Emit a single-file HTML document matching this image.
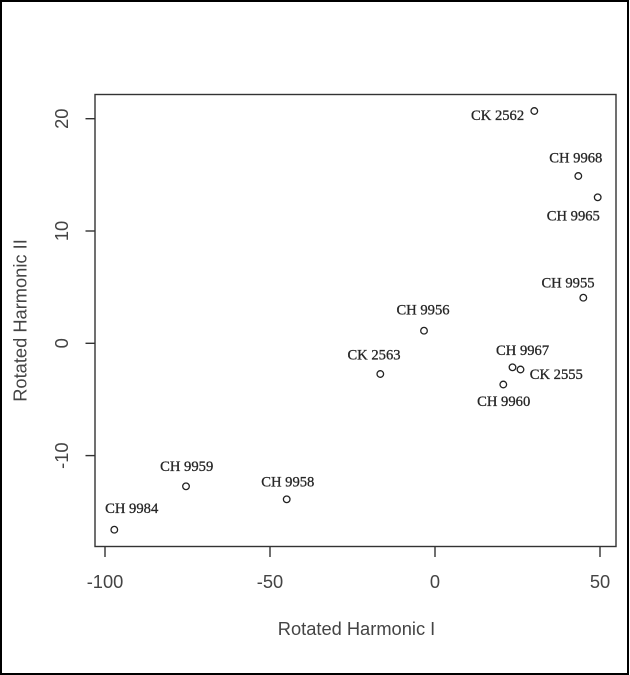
<!DOCTYPE html>
<html>
<head>
<meta charset="utf-8">
<style>
  html, body { margin: 0; padding: 0; background: #fff; }
  svg { display: block; }
</style>
</head>
<body>
<svg width="630" height="675" viewBox="0 0 630 675" xmlns="http://www.w3.org/2000/svg">
  <rect x="0" y="0" width="630" height="675" fill="#fff"/>
  <!-- outer frame -->
  <rect x="1" y="1" width="627" height="673" fill="none" stroke="#000" stroke-width="2"/>

  <!-- plot box -->
  <rect x="95" y="94.5" width="521" height="452" fill="none" stroke="#333" stroke-width="1.4"/>

  <!-- ticks -->
  <g stroke="#333" stroke-width="1.4">
    <line x1="105" y1="546.5" x2="105" y2="557"/>
    <line x1="270" y1="546.5" x2="270" y2="557"/>
    <line x1="435" y1="546.5" x2="435" y2="557"/>
    <line x1="600" y1="546.5" x2="600" y2="557"/>
    <line x1="85.5" y1="118.7" x2="95" y2="118.7"/>
    <line x1="85.5" y1="231" x2="95" y2="231"/>
    <line x1="85.5" y1="343.3" x2="95" y2="343.3"/>
    <line x1="85.5" y1="455.6" x2="95" y2="455.6"/>
  </g>

  <!-- x tick labels -->
  <g font-family="Liberation Sans, Arial, sans-serif" font-size="18.3" fill="#444" text-anchor="middle">
    <text x="105" y="588">-100</text>
    <text x="270" y="588">-50</text>
    <text x="435" y="588">0</text>
    <text x="600" y="588">50</text>
  </g>
  <!-- y tick labels -->
  <g font-family="Liberation Sans, Arial, sans-serif" font-size="18.3" fill="#444" text-anchor="middle">
    <text transform="translate(68,118.7) rotate(-90)">20</text>
    <text transform="translate(68,231) rotate(-90)">10</text>
    <text transform="translate(68,343.3) rotate(-90)">0</text>
    <text transform="translate(68,455.6) rotate(-90)">-10</text>
  </g>

  <!-- axis titles -->
  <text x="356.5" y="635" font-family="Liberation Sans, Arial, sans-serif" font-size="18.3" fill="#444" text-anchor="middle">Rotated Harmonic I</text>
  <text transform="translate(26.5,320.5) rotate(-90)" font-family="Liberation Sans, Arial, sans-serif" font-size="18.3" fill="#444" text-anchor="middle">Rotated Harmonic II</text>

  <!-- points -->
  <g fill="none" stroke="#222" stroke-width="1.3">
    <circle cx="534.3" cy="111" r="3.3"/>
    <circle cx="578.3" cy="176" r="3.3"/>
    <circle cx="597.7" cy="197.3" r="3.3"/>
    <circle cx="583.3" cy="297.7" r="3.3"/>
    <circle cx="424" cy="330.7" r="3.3"/>
    <circle cx="380.3" cy="374" r="3.3"/>
    <circle cx="512.5" cy="367.3" r="3.3"/>
    <circle cx="520.5" cy="369.5" r="3.3"/>
    <circle cx="503.3" cy="384.5" r="3.3"/>
    <circle cx="286.7" cy="499.3" r="3.3"/>
    <circle cx="186" cy="486.3" r="3.3"/>
    <circle cx="114.3" cy="529.7" r="3.3"/>
  </g>

  <!-- point labels -->
  <g font-family="Liberation Serif, 'Times New Roman', serif" font-size="14.6" fill="#262626" stroke="#262626" stroke-width="0.3" text-anchor="middle">
    <text x="497.6" y="120">CK 2562</text>
    <text x="575.8" y="162.7">CH 9968</text>
    <text x="573.3" y="220.7">CH 9965</text>
    <text x="568" y="287.7">CH 9955</text>
    <text x="423" y="314.3">CH 9956</text>
    <text x="374" y="359.3">CK 2563</text>
    <text x="522.6" y="355">CH 9967</text>
    <text x="556.3" y="379">CK 2555</text>
    <text x="503.7" y="406">CH 9960</text>
    <text x="287.8" y="486.7">CH 9958</text>
    <text x="186.7" y="471">CH 9959</text>
    <text x="131.7" y="513">CH 9984</text>
  </g>
</svg>
</body>
</html>
